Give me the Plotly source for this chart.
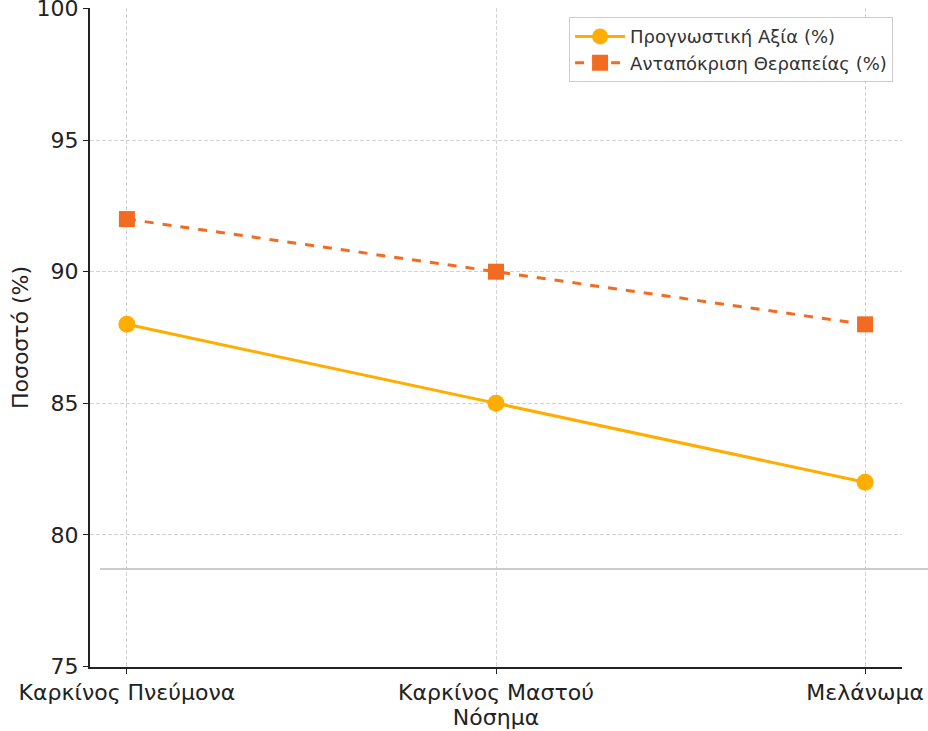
import plotly.graph_objects as go

# Disease categories and percentages per metric
diseases = ["Καρκίνος Πνεύμονα", "Καρκίνος Μαστού", "Μελάνωμα"]
prognostic_value = [88, 85, 82]
treatment_response = [92, 90, 88]
reference_level = 78.7

fig = go.Figure()

fig.add_trace(go.Scatter(
    x=diseases, y=prognostic_value, name="Προγνωστική Αξία (%)",
    mode="lines+markers",
    line=dict(color="#FFAD00", width=3),
    marker=dict(symbol="circle", size=17, color="#FFAD00"),
))
fig.add_trace(go.Scatter(
    x=diseases, y=treatment_response, name="Ανταπόκριση Θεραπείας (%)",
    mode="lines+markers",
    line=dict(color="#F26B21", width=3, dash="dash"),
    marker=dict(symbol="square", size=16, color="#F26B21"),
))

fig.add_shape(type="line", xref="paper", yref="y",
              x0=0.0123, x1=1.032, y0=reference_level, y1=reference_level,
              line=dict(color="#cccccc", width=2))

fig.add_annotation(
    text="Προγνωστική Αξία και Ανταπόκριση στη Θεραπεία ανά Νόσημα",
    xref="paper", yref="paper", x=0.5, y=1, yanchor="bottom",
    yshift=5, showarrow=False, font=dict(size=22, color="#222222"),
)

fig.update_layout(
    width=928, height=731,
    margin=dict(l=90, r=26, t=8, b=64, autoexpand=False),
    paper_bgcolor="white", plot_bgcolor="white",
    font=dict(family="DejaVu Sans", color="#222222", size=22),
    showlegend=True,
    legend=dict(
        x=0.989, y=0.986, xanchor="right", yanchor="top",
        bgcolor="white", bordercolor="#cccccc", borderwidth=1,
        font=dict(size=18, color="#333333"),
        tracegroupgap=4, itemwidth=50,
    ),
)

fig.update_xaxes(
    type="category", range=[-0.1, 2.1], automargin=False,
    title=dict(text="Νόσημα", font=dict(size=22), standoff=4),
    showline=True, linecolor="#222222", linewidth=2,
    ticks="outside", ticklen=5, tickcolor="#222222",
    showgrid=True, gridcolor="#d3d3d3", griddash="4px,2px", gridwidth=1,
    zeroline=False, tickfont=dict(size=22), ticklabeloverflow="allow",
)
fig.update_yaxes(
    range=[74.98, 100.02], dtick=5, tick0=75, automargin=False,
    title=dict(text="Ποσοστό (%)", font=dict(size=22), standoff=2),
    showline=True, linecolor="#222222", linewidth=2,
    ticks="outside", ticklen=5, tickcolor="#222222",
    showgrid=True, gridcolor="#d3d3d3", griddash="4px,2px", gridwidth=1,
    zeroline=False, tickfont=dict(size=22), ticklabeloverflow="allow",
)

fig.write_html("out.html")
